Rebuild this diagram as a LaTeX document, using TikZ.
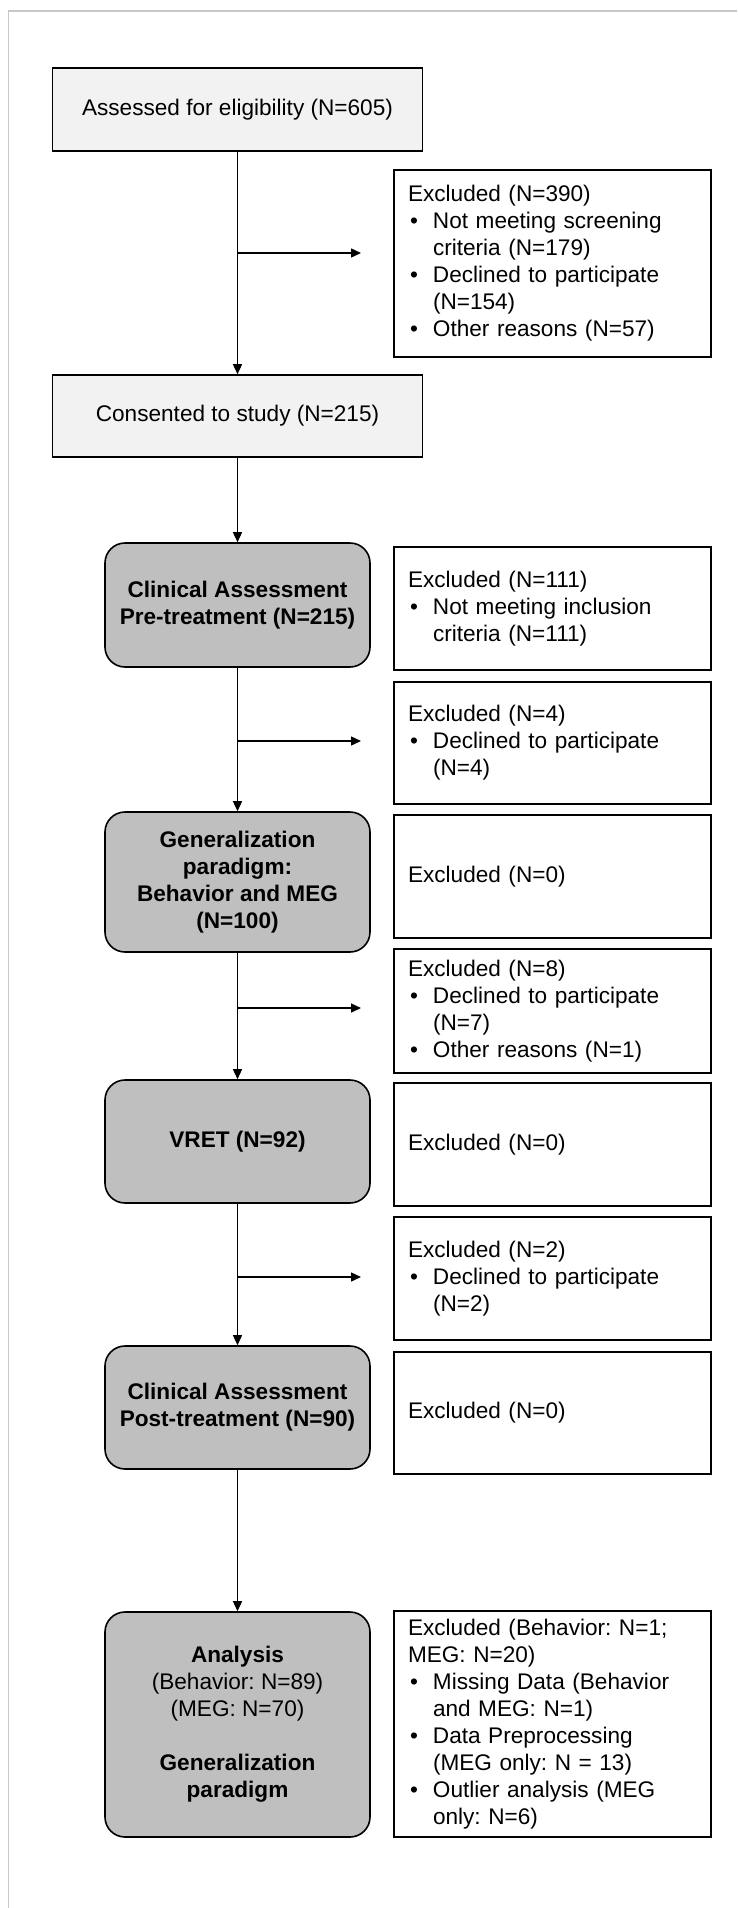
\documentclass[tikz,border=0pt]{standalone}
\usepackage{fontspec}
\setmainfont{Liberation Sans}
\usetikzlibrary{arrows.meta}
\definecolor{boxlight}{HTML}{F2F2F2}
\definecolor{boxgray}{HTML}{BFBFBF}
\definecolor{framegray}{HTML}{C8C8C8}
\newcommand{\bitem}{\hspace*{2pt}\makebox[23pt][l]{•}}
\newcommand{\bcont}{\hspace*{25pt}}
\frenchspacing
\begin{document}
\begin{tikzpicture}[x=1pt,y=-1pt,
  plainbox/.style={draw=black, line width=1.6pt, fill=boxlight, minimum width=370pt, inner sep=0pt, align=center, font=\fontsize{22.6}{27}\selectfont},
  stagebox/.style={draw=black, line width=1.6pt, fill=boxgray, rounded corners=20pt, minimum width=265pt, inner sep=0pt, align=center, font=\fontsize{22.6}{27}\selectfont\bfseries},
  exclbox/.style={draw=black, line width=1.6pt, fill=white, text width=289pt, inner xsep=14pt, inner ysep=0pt, align=left, font=\fontsize{22.6}{27}\selectfont},
  arr/.style={line width=1.4pt, -{Triangle[length=10pt,width=9pt]}}
]
\useasboundingbox (0,0) rectangle (737,1908);
\draw[framegray, line width=1.5pt] (737,11) -- (8.5,11) -- (8.5,1908);

% main column
\node[plainbox, minimum height=83pt] (assess) at (237.5,109.3) {Assessed for eligibility (N=605)};
\node[plainbox, minimum height=82pt] (consent) at (237.5,416) {Consented to study (N=215)};
\node[stagebox, minimum height=124pt] (clinpre) at (237.5,605) {Clinical Assessment\\Pre-treatment (N=215)};
\node[stagebox, minimum height=140pt] (gen) at (237.5,882) {Generalization\\paradigm:\\Behavior and MEG\\(N=100)};
\node[stagebox, minimum height=123pt] (vret) at (237.5,1141.5) {VRET (N=92)};
\node[stagebox, minimum height=123pt] (clinpost) at (237.5,1407.5) {Clinical Assessment\\Post-treatment (N=90)};
\node[stagebox, minimum height=225pt] (analysis) at (237.5,1724.5) {Analysis\\\mdseries(Behavior: N=89)\\\mdseries(MEG: N=70)\\[27pt]Generalization\\paradigm};

% exclusion boxes
\node[exclbox, minimum height=187pt] (ex1) at (552.5,263.5) {Excluded (N=390)\\\bitem Not meeting screening\\\bcont criteria (N=179)\\\bitem Declined to participate\\\bcont (N=154)\\\bitem Other reasons (N=57)};
\node[exclbox, minimum height=123pt] (ex2) at (552.5,608.5) {Excluded (N=111)\\\bitem Not meeting inclusion\\\bcont criteria (N=111)};
\node[exclbox, minimum height=122pt] (ex3) at (552.5,743) {Excluded (N=4)\\\bitem Declined to participate\\\bcont (N=4)};
\node[exclbox, minimum height=123pt] (ex4) at (552.5,876.5) {Excluded (N=0)};
\node[exclbox, minimum height=124pt] (ex5) at (552.5,1011) {Excluded (N=8)\\\bitem Declined to participate\\\bcont (N=7)\\\bitem Other reasons (N=1)};
\node[exclbox, minimum height=123pt] (ex6) at (552.5,1144.5) {Excluded (N=0)};
\node[exclbox, minimum height=123pt] (ex7) at (552.5,1278.5) {Excluded (N=2)\\\bitem Declined to participate\\\bcont (N=2)};
\node[exclbox, minimum height=122pt] (ex8) at (552.5,1413) {Excluded (N=0)};
\node[exclbox, minimum height=226pt] (ex9) at (552.5,1724) {Excluded (Behavior: N=1;\\MEG: N=20)\\\bitem Missing Data (Behavior\\\bcont and MEG: N=1)\\\bitem Data Preprocessing\\\bcont (MEG only: N = 13)\\\bitem Outlier analysis (MEG\\\bcont only: N=6)};

% vertical connectors
\draw[arr] (assess) -- (consent);
\draw[arr] (consent) -- (clinpre);
\draw[arr] (clinpre) -- (gen);
\draw[arr] (gen) -- (vret);
\draw[arr] (vret) -- (clinpost);
\draw[arr] (clinpost) -- (analysis);

% side branches
\coordinate (b1) at (237.5,253);  \coordinate (e1) at (361,253);
\coordinate (b2) at (237.5,741);  \coordinate (e2) at (361,741);
\coordinate (b3) at (237.5,1008); \coordinate (e3) at (361,1008);
\coordinate (b4) at (237.5,1277); \coordinate (e4) at (361,1277);
\draw[arr] (b1) -- (e1);
\draw[arr] (b2) -- (e2);
\draw[arr] (b3) -- (e3);
\draw[arr] (b4) -- (e4);
\end{tikzpicture}
\end{document}
